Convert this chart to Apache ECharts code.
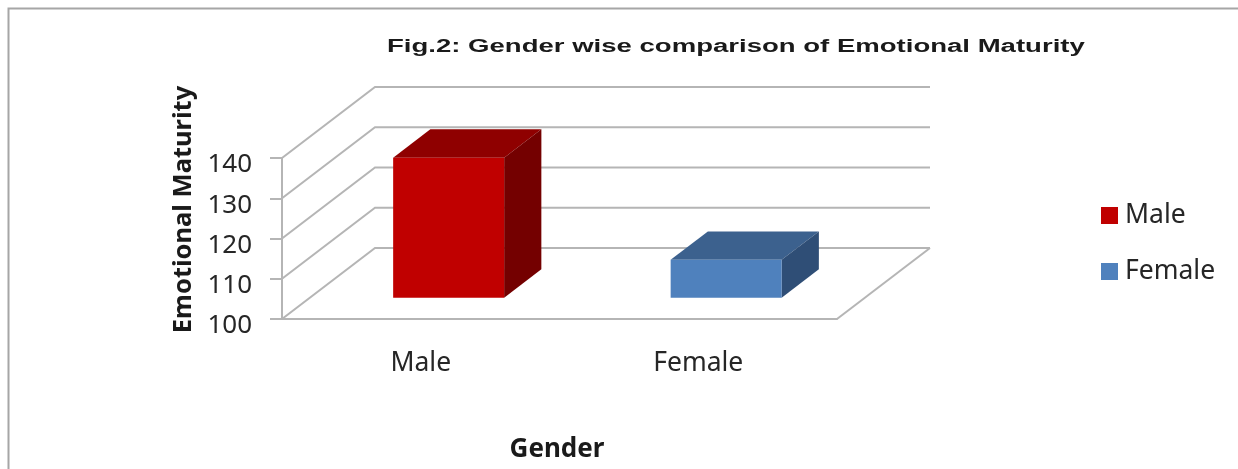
<!DOCTYPE html>
<html>
<head>
<meta charset="utf-8">
<title>Fig.2</title>
<style>
  html, body { margin: 0; padding: 0; background: #fff; overflow: hidden; }
  #main { width: 1238px; height: 469px; }
</style>
<script src="https://cdn.jsdelivr.net/npm/echarts@6/dist/echarts.min.js"></script>
</head>
<body>
<div id="main"></div>
<script>
// values
var categories = ["Male", "Female"];
var maleValues = [134.8];
var femaleValues = [109.4];
var yTicks = [100, 110, 120, 130, 140];

var titleText = "Fig.2: Gender wise comparison of Emotional Maturity";
var yName = "Emotional Maturity";
var xName = "Gender";

var labelFont = "Noto Sans";
var gridColor = "#b5b5b5";
var textColor = "#262626";

// fake 3d: how far the back wall sits from the front plane
var depthX = 93;
var depthY = -71;
// bar sits between these fractions of the depth
var barDepthStart = 0.30;
var barDepthEnd = 0.70;
var barWidthRate = 0.40;

function renderWall(params, api) {
  var sys = params.coordSys;
  var tick = api.value(0);
  var y = api.coord([0, tick])[1];
  var left = sys.x;
  var right = sys.x + sys.width;
  var style = { fill: "none", stroke: gridColor, lineWidth: 2 };
  var children = [{
    type: "polyline",
    shape: { points: [[left, y], [left + depthX, y + depthY], [right + depthX, y + depthY]] },
    style: style
  }];
  if (tick === yTicks[0]) {
    children.push({
      type: "line",
      shape: { x1: right, y1: y, x2: right + depthX, y2: y + depthY },
      style: style
    });
  }
  return { type: "group", children: children };
}

function barRenderer(frontColor, topColor, sideColor) {
  return function (params, api) {
    var top = api.coord([api.value(0), api.value(1)]);
    var base = api.coord([api.value(0), yTicks[0]]);
    var w = api.size([1, 0])[0] * barWidthRate;
    var sx = depthX * barDepthStart;
    var sy = depthY * barDepthStart;
    var dx = depthX * (barDepthEnd - barDepthStart);
    var dy = depthY * (barDepthEnd - barDepthStart);
    var x0 = top[0] - w / 2 + sx;
    var x1 = x0 + w;
    var yt = top[1] + sy;
    var yb = base[1] + sy;
    return {
      type: "group",
      children: [
        { type: "polygon", shape: { points: [[x0, yt], [x0 + dx, yt + dy], [x1 + dx, yt + dy], [x1, yt]] }, style: { fill: topColor } },
        { type: "polygon", shape: { points: [[x1, yt], [x1 + dx, yt + dy], [x1 + dx, yb + dy], [x1, yb]] }, style: { fill: sideColor } },
        { type: "rect", shape: { x: x0, y: yt, width: w, height: yb - yt }, style: { fill: frontColor } }
      ]
    };
  };
}

var chart = echarts.init(document.getElementById("main"));
chart.setOption({
  animation: false,
  backgroundColor: "#fff",
  legend: {
    orient: "vertical",
    left: 1101,
    top: 202,
    padding: 0,
    icon: "rect",
    itemWidth: 17,
    itemHeight: 17,
    itemGap: 29,
    data: categories,
    textStyle: { fontFamily: labelFont, fontSize: 26.5, color: textColor, padding: [0, 0, 0, 2] }
  },
  grid: { left: 282, top: 158, width: 555, height: 161 },
  xAxis: {
    type: "category",
    data: categories,
    name: xName,
    nameLocation: "middle",
    nameGap: 118,
    nameTextStyle: { fontFamily: labelFont, fontWeight: "bold", fontSize: 26, color: "#1a1a1a", padding: [0, 5, 0, 0] },
    axisLine: { lineStyle: { color: gridColor, width: 2 } },
    axisTick: { show: false },
    axisLabel: { fontFamily: labelFont, fontSize: 26.5, color: textColor, margin: 31 }
  },
  yAxis: {
    type: "value",
    min: 100,
    max: 140,
    interval: 10,
    name: yName,
    nameLocation: "middle",
    nameGap: 85,
    nameTextStyle: { fontFamily: labelFont, fontWeight: "bold", fontSize: 25.5, color: "#1a1a1a", padding: [0, 0, 0, 58] },
    splitLine: { show: false },
    axisLine: { show: true, lineStyle: { color: gridColor, width: 2 } },
    axisTick: { show: true, length: 12, lineStyle: { color: gridColor, width: 2 } },
    axisLabel: { fontFamily: labelFont, fontSize: 26, color: textColor, margin: 30, verticalAlign: "top", lineHeight: 14 }
  },
  series: [
    {
      name: "walls",
      type: "custom",
      silent: true,
      clip: false,
      renderItem: renderWall,
      encode: { y: 0 },
      data: yTicks.map(function (t) { return [t]; })
    },
    {
      name: categories[0],
      type: "custom",
      clip: false,
      itemStyle: { color: "#c00000" },
      renderItem: barRenderer("#c00000", "#8f0000", "#740000"),
      encode: { x: 0, y: 1 },
      data: maleValues.map(function (v) { return [0, v]; })
    },
    {
      name: categories[1],
      type: "custom",
      clip: false,
      itemStyle: { color: "#4f81bd" },
      renderItem: barRenderer("#4f81bd", "#3c618e", "#2f4e76"),
      encode: { x: 0, y: 1 },
      data: femaleValues.map(function (v) { return [1, v]; })
    }
  ],
  graphic: [
    {
      type: "rect",
      silent: true,
      shape: { x: 8.5, y: 8.5, width: 1300, height: 600 },
      style: { fill: "none", stroke: "#a6a6a6", lineWidth: 2 }
    },
    {
      // the title is stretched sideways in the original
      type: "text",
      silent: true,
      x: 387,
      y: 38,
      scaleX: 1.53,
      style: { text: titleText, fontFamily: "Liberation Sans", fontWeight: "bold", fontSize: 18, fill: "#1a1a1a" }
    }
  ]
});
</script>
</body>
</html>
